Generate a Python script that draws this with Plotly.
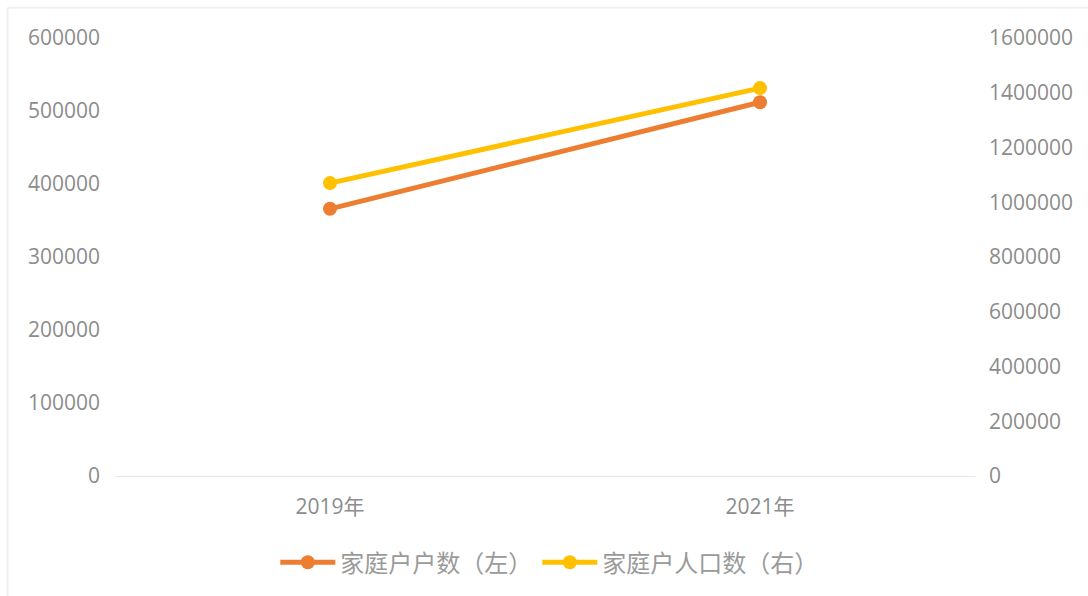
import plotly.graph_objects as go

# Data
years = ["2019年", "2021年"]
households = [366000, 512000]          # 家庭户户数 (left axis)
household_population = [1070000, 1417000]  # 家庭户人口数 (right axis)

left_ticks = [0, 100000, 200000, 300000, 400000, 500000, 600000]
right_ticks = [0, 200000, 400000, 600000, 800000, 1000000, 1200000, 1400000, 1600000]

ORANGE = "#ED7D31"
YELLOW = "#FFC000"
GRAY = "#8C8C8C"
TICK_FONT = dict(family="Open Sans, Liberation Sans, sans-serif", size=21, color=GRAY)

fig = go.Figure()
fig.add_trace(go.Scatter(
    x=years, y=households, name="家庭户户数（左）",
    mode="lines+markers",
    line=dict(color=ORANGE, width=5),
    marker=dict(color=ORANGE, size=14),
    yaxis="y",
))
fig.add_trace(go.Scatter(
    x=years, y=household_population, name="家庭户人口数（右）",
    mode="lines+markers",
    line=dict(color=YELLOW, width=5),
    marker=dict(color=YELLOW, size=14),
    yaxis="y2",
))

fig.update_layout(
    width=1088, height=596,
    margin=dict(l=115, r=113, t=38, b=119),
    paper_bgcolor="white", plot_bgcolor="white",
    showlegend=True,
    legend=dict(
        orientation="h", x=0.505, xanchor="center", y=-0.195, yanchor="middle",
        font=dict(family="Noto Sans CJK SC, sans-serif", size=24, color="#9A9A9A"),
        itemwidth=55, tracegroupgap=0, bgcolor="rgba(0,0,0,0)",
    ),
    xaxis=dict(
        type="category", range=[-0.5, 1.5],
        showgrid=False, zeroline=False, showline=False,
        ticks="", tickfont=dict(family="Open Sans, Noto Sans CJK SC, sans-serif", size=21, color=GRAY),
        ticklabelstandoff=16,
    ),
    yaxis=dict(
        range=[0, 600000], tickvals=left_ticks,
        ticktext=[str(v) for v in left_ticks],
        showgrid=False, zeroline=True, zerolinecolor="#E6E6E6", zerolinewidth=1,
        showline=False, ticks="", tickfont=TICK_FONT, ticklabelstandoff=14,
    ),
    yaxis2=dict(
        range=[0, 1600000], tickvals=right_ticks,
        ticktext=[str(v) for v in right_ticks],
        overlaying="y", side="right",
        showgrid=False, zeroline=False, showline=False,
        ticks="", tickfont=TICK_FONT, ticklabelstandoff=13,
    ),
    shapes=[
        dict(type="line", xref="paper", yref="paper",
             x0=-0.125, x1=1.14, y0=1.069, y1=1.069,
             line=dict(color="#F0F0F0", width=2)),
        dict(type="line", xref="paper", yref="paper",
             x0=-0.125, x1=-0.125, y0=1.069, y1=-0.3,
             line=dict(color="#F0F0F0", width=2)),
    ],
)

fig.write_html("out.html")
